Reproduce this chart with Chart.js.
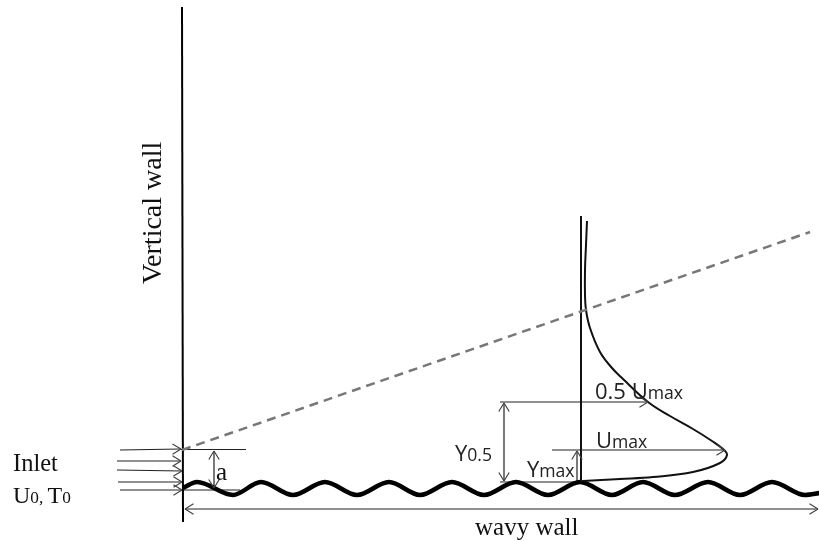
<!DOCTYPE html>
<html>
<head>
<meta charset="utf-8">
<title>Wall jet over a wavy wall</title>
<script src="https://cdn.jsdelivr.net/npm/chart.js@4/dist/chart.umd.min.js"></script>
<style>
  html, body { margin: 0; padding: 0; background: #fff; }
  canvas { display: block; }
</style>
</head>
<body>
<canvas id="sketch" width="819" height="541"></canvas>
<script>
const wavyWall = [[183,488],[197,482],[233,495],[261,482],[293,495],[325,482],[357,495],[389,482],[420,495],
  [452,482],[484,495],[516,482],[548,495],[580,482],[612,495],[643,482],[675,495],[708,482],[740,495],[772,482],[805,495],[820,493]];
const velocityProfile = [[587,221],[586,245],[585,270],[585,295],[586,310],[590,328],[600,352],[612,368],[622,378],
  [648,402],[670,416],[693,429],[712,441],[723,449],[727,455],[720,463],[693,472],[653,477],[620,479],[583,481]];
const verticalWall = [[182,7],[183,522]];
const profileAxis = [[581,216],[581,482]];
const spreadLine = [[182,450],[810,232]];

const inletArrows = [
  [[120,450],[181,449]],
  [[117,461],[181,461]],
  [[117,470],[182,471]],
  [[118,482],[182,482]],
  [[120,490],[182,490]]
];
const guideLines = [
  [[181,449.5],[246,449.5]],
  [[182,490],[240,490]],
  [[500,482],[580,482]]
];
const oneHeadArrows = [
  [[500,402],[648,402]],
  [[552,450],[725,450]],
  [[577,481],[577,451]]
];
const twoHeadArrows = [
  [[214,451],[214,488]],
  [[504,403],[504,481]],
  [[185,509],[818,509]]
];

const labelRuns = [["Inlet"],["U","0, ","T","0"],["a"],["wavy wall"],["Vertical wall"],["Y","0.5"],["Y","max"],["U","max"],["0.5 U","max"]];
const labelAnchors = [[13,471],[13,503],[216,480],[475,535],[161,284],[455,461],[527,477],[596,448],[595,399]];
const labelFonts = ["serif","serif","serif","serif","serif","sans","sans","sans","sans"];
const labelAngles = [0,0,0,0,-90,0,0,0,0];
const labelSizes = [24.5,24,25,25,28,22,22,22,22];
const subRatio = { serif: 0.72, sans: 0.8 };

const FONT = { serif: '"Liberation Serif"', sans: '"Open Sans"' };

function toXY(pts) {
  return pts.map(p => ({ x: p[0], y: p[1] }));
}

function lineSet(pts, color, width, extra) {
  return Object.assign({
    type: 'line',
    data: toXY(pts),
    borderColor: color,
    borderWidth: width,
    pointRadius: 0,
    fill: false
  }, extra || {});
}

const datasets = [
  lineSet(spreadLine, '#777', 2.5, { borderDash: [9, 6] }),
  lineSet(verticalWall, '#000', 2),
  lineSet(profileAxis, '#111', 2),
  lineSet(velocityProfile, '#111', 2, { tension: 0.4 }),
  lineSet(wavyWall, '#000', 4.5, { tension: 0.4, cubicInterpolationMode: 'monotone' })
];
guideLines.forEach(l => datasets.push(lineSet(l, '#222', 1.2)));
inletArrows.forEach(l => datasets.push(lineSet(l, '#222', 1.2, { arrowEnd: true })));
oneHeadArrows.forEach(l => datasets.push(lineSet(l, '#222', 1.2, { arrowEnd: true })));
twoHeadArrows.forEach(l => datasets.push(lineSet(l, '#222', 1.2, { arrowEnd: true, arrowStart: true })));

function drawHead(ctx, tip, from) {
  const a = Math.atan2(tip.y - from.y, tip.x - from.x);
  ctx.beginPath();
  [-1, 1].forEach(side => {
    ctx.moveTo(tip.x, tip.y);
    ctx.lineTo(tip.x - 10 * Math.cos(a + side * 0.55), tip.y - 10 * Math.sin(a + side * 0.55));
  });
  ctx.stroke();
}

// open "V" arrow heads on the datasets that ask for them
const arrowHeads = {
  id: 'arrowHeads',
  afterDatasetsDraw(chart) {
    const ctx = chart.ctx;
    ctx.save();
    ctx.strokeStyle = '#444';
    ctx.lineWidth = 1.2;
    chart.data.datasets.forEach((ds, i) => {
      const pts = chart.getDatasetMeta(i).data;
      if (ds.arrowEnd) drawHead(ctx, pts[pts.length - 1], pts[pts.length - 2]);
      if (ds.arrowStart) drawHead(ctx, pts[0], pts[1]);
    });
    ctx.restore();
  }
};

// text labels, odd runs are the small subscripts
const sketchLabels = {
  id: 'sketchLabels',
  afterDraw(chart) {
    const ctx = chart.ctx;
    const xs = chart.scales.x, ys = chart.scales.y;
    labelRuns.forEach((runs, i) => {
      const kind = labelFonts[i];
      ctx.save();
      ctx.translate(xs.getPixelForValue(labelAnchors[i][0]), ys.getPixelForValue(labelAnchors[i][1]));
      ctx.rotate(labelAngles[i] * Math.PI / 180);
      ctx.fillStyle = kind === 'serif' ? '#111' : '#222';
      ctx.textBaseline = 'alphabetic';
      let cx = 0;
      runs.forEach((run, j) => {
        const size = j % 2 ? labelSizes[i] * subRatio[kind] : labelSizes[i];
        ctx.font = size + 'px ' + FONT[kind];
        ctx.fillText(run, cx, 0);
        cx += ctx.measureText(run).width;
      });
      ctx.restore();
    });
  }
};

new Chart(document.getElementById('sketch').getContext('2d'), {
  type: 'line',
  data: { datasets: datasets },
  options: {
    responsive: false,
    animation: false,
    layout: { padding: 0 },
    plugins: { legend: { display: false }, tooltip: { enabled: false } },
    scales: {
      x: { type: 'linear', min: 0, max: 819, display: false },
      y: { type: 'linear', min: 0, max: 541, reverse: true, display: false }
    }
  },
  plugins: [arrowHeads, sketchLabels]
});
</script>
</body>
</html>
